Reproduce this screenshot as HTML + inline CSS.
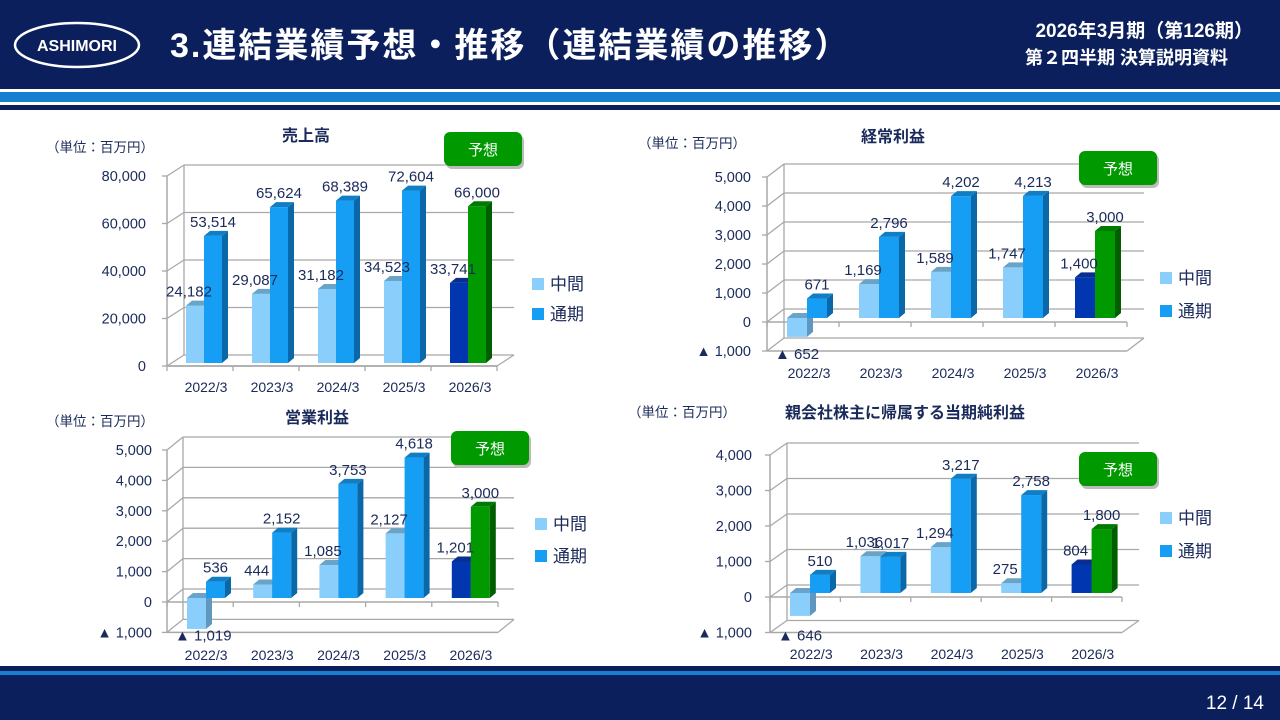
<!DOCTYPE html>
<html><head><meta charset="utf-8">
<style>
body{margin:0;width:1280px;height:720px;overflow:hidden;background:#fff;font-family:"Liberation Sans","Noto Sans CJK JP",sans-serif;}
svg{display:block}
</style></head>
<body>
<svg id="s" width="1280" height="720" xmlns="http://www.w3.org/2000/svg" font-family="Liberation Sans, Noto Sans CJK JP, sans-serif">
<g>
<rect x="0" y="0" width="1280" height="89" fill="#0b1f5c"/>
<rect x="0" y="92" width="1280" height="10" fill="#1580d0"/>
<rect x="0" y="105" width="1280" height="5" fill="#0b1f5c"/>
<ellipse cx="77" cy="45" rx="62" ry="22" fill="none" stroke="#fff" stroke-width="2.5"/>
<text x="77" y="51" text-anchor="middle" fill="#fff" font-size="16" font-weight="bold">ASHIMORI</text>
<text x="170" y="57" fill="#fff" font-size="34" font-weight="bold" letter-spacing="2">3.連結業績予想・推移（連結業績の推移）</text>
<text x="1253" y="37" text-anchor="end" fill="#fff" font-size="19" font-weight="bold">2026年3月期（第126期）</text>
<text x="1228" y="64" text-anchor="end" fill="#fff" font-size="18" font-weight="bold">第２四半期 決算説明資料</text>
</g>
<g>
<rect x="0" y="666" width="1280" height="5" fill="#0b1f5c"/>
<rect x="0" y="671" width="1280" height="4" fill="#1580d0"/>
<rect x="0" y="675" width="1280" height="45" fill="#0b1f5c"/>
<text x="1264" y="709" text-anchor="end" fill="#fff" font-size="19">12 / 14</text>
</g>
<g id="charts"></g>
</svg>
<script>
const categories=["2022/3","2023/3","2024/3","2025/3","2026/3"];
const salesInterim=[24182,29087,31182,34523,33741];
const salesAnnual=[53514,65624,68389,72604,66000];
const ordInterim=[-652,1169,1589,1747,1400];
const ordAnnual=[671,2796,4202,4213,3000];
const opInterim=[-1019,444,1085,2127,1201];
const opAnnual=[536,2152,3753,4618,3000];
const netInterim=[-646,1036,1294,275,804];
const netAnnual=[510,1017,3217,2758,1800];

const NS="http://www.w3.org/2000/svg";
const root=document.getElementById('charts');
function el(tag,attrs,parent,txt){const e=document.createElementNS(NS,tag);for(const k in attrs)e.setAttribute(k,attrs[k]);if(txt!==undefined)e.textContent=txt;(parent||root).appendChild(e);return e;}
function fmt(v){const a=Math.abs(v).toLocaleString('en-US');return v<0?'▲ '+a:a;}

function chart(c){
  const g=el('g',{});
  
  
  const y=v=>c.y0-v*c.ppu;
  const yb=v=>c.base-v*c.ppu;
  const gc='#a8a8a8';
  for(let v=c.min;v<=c.max;v+=c.step){
    const gl=el('line',{x1:c.x0,y1:y(v),x2:c.x0+c.dx,y2:y(v)+c.dy,stroke:gc,'stroke-width':1.3},g);
    
    
    const gb=el('line',{x1:c.x0+c.dx,y1:y(v)+c.dy,x2:c.x1+c.dx,y2:y(v)+c.dy,stroke:gc,'stroke-width':1.3},g);
    
    
    el('line',{x1:c.x0-5,y1:y(v),x2:c.x0,y2:y(v),stroke:gc,'stroke-width':1.3},g);
    const t=el('text',{x:c.lx,y:y(v)+5,'text-anchor':'end','font-size':14.5,fill:'#1a2a5a'},g,fmt(v));
    
    
  }
  el('line',{x1:c.x0+c.dx,y1:y(c.max)+c.dy,x2:c.x0+c.dx,y2:y(c.min)+c.dy,stroke:gc,'stroke-width':1.3},g);
  el('line',{x1:c.x0,y1:y(c.max),x2:c.x0,y2:y(c.min),stroke:gc,'stroke-width':1.5},g);
  el('line',{x1:c.x0,y1:y(c.min),x2:c.x1,y2:y(c.min),stroke:gc,'stroke-width':1.5},g);
  el('line',{x1:c.x1,y1:y(c.min),x2:c.x1+c.dx,y2:y(c.min)+c.dy,stroke:gc,'stroke-width':1.3},g);
  el('line',{x1:c.x0,y1:y(0),x2:c.x1,y2:y(0),stroke:gc,'stroke-width':1.5},g);
  const cw=(c.x1-c.x0)/categories.length;
  for(let i=0;i<=categories.length;i++){
    el('line',{x1:c.x0+i*cw,y1:y(0),x2:c.x0+i*cw,y2:y(0)+5,stroke:gc,'stroke-width':1.3},g);
  }
  const bars=el('g',{},g);
  const labels=el('g',{},g);
  const sd=6, su=5;
  function bar(x,v,front,side,top,nm,lshift){
    const bg=el('g',{},bars);
    
    
    const t=Math.min(yb(v),yb(0)), b=Math.max(yb(v),yb(0));
    el('rect',{x:x,y:t,width:c.bw,height:b-t,fill:front},bg);
    el('polygon',{points:`${x+c.bw},${t} ${x+c.bw+sd},${t-su} ${x+c.bw+sd},${b-su} ${x+c.bw},${b}`,fill:side},bg);
    el('polygon',{points:`${x},${t} ${x+sd},${t-su} ${x+c.bw+sd},${t-su} ${x+c.bw},${t}`,fill:top},bg);
    let lab;
    if(v>=0) lab=el('text',{x:x+c.bw/2+lshift,y:yb(v)-9,'text-anchor':'middle','font-size':15,fill:'#1a2a5a'},labels,fmt(v));
    else lab=el('text',{x:x-12,y:y(c.min)+8,'font-size':15,fill:'#1a2a5a'},labels,fmt(v));
    
    
  }
  categories.forEach((cat,i)=>{
    const bx=c.x0+i*cw+c.off;
    const last=i===categories.length-1;
    bar(bx,c.interim[i],last?'#0036b0':'#8acffb',last?'#00268a':'#5f97bf',last?'#0a2e90':'#6aa3c8','bar-interim-'+cat,-6);
    bar(bx+c.bw,c.annual[i],last?'#009900':'#169ef5',last?'#005e00':'#0b68a8',last?'#007a00':'#0f7ec5','bar-annual-'+cat,0);
    const xl=el('text',{x:c.x0+i*cw+cw/2+6,y:c.xly,'text-anchor':'middle','font-size':14,fill:'#1a2a5a'},g,cat);
    
    
  });
  const tt=el('text',{x:c.tx,y:c.ty,'text-anchor':'middle','font-size':16,'font-weight':'bold',fill:'#1a2a5a'},g,c.title);
  
  
  const un=el('text',{x:c.ux,y:c.uy,'font-size':13.5,fill:'#1a2a5a'},g,'（単位：百万円）');
  
  
  const bd=el('g',{},g);
  
  
  el('rect',{x:c.bx+2,y:c.by+3,width:78,height:34,rx:6,fill:'#bbb'},bd);
  el('rect',{x:c.bx,y:c.by,width:78,height:34,rx:6,fill:'#009a00'},bd);
  el('text',{x:c.bx+39,y:c.by+23,'text-anchor':'middle','font-size':15,fill:'#fff'},bd,'予想');
  [['中間','#8acffb',c.gy1],['通期','#169ef5',c.gy2]].forEach(l=>{
    const lg=el('g',{},g);
    
    
    el('rect',{x:c.gx,y:l[2]-6,width:12,height:12,fill:l[1]},lg);
    el('text',{x:c.gx+18,y:l[2]+6,'font-size':17,fill:'#1a2a5a'},lg,l[0]);
  });
}
chart({name:'sales-chart',title:'売上高',interim:salesInterim,annual:salesAnnual,x0:167,x1:497,y0:366,base:363,ppu:190/80000,min:0,max:80000,step:20000,dx:17,dy:-11,off:19,bw:18,lx:146,xly:392,tx:306,ty:141,ux:46,uy:152,bx:444,by:132,gx:532,gy1:284,gy2:314});
chart({name:'ordinary-profit-chart',title:'経常利益',interim:ordInterim,annual:ordAnnual,x0:767,x1:1127,y0:322,base:318,ppu:0.029,min:-1000,max:5000,step:1000,dx:17,dy:-13,off:20,bw:20,lx:751,xly:378,tx:893,ty:142,ux:638,uy:148,bx:1079,by:151,gx:1160,gy1:278,gy2:311});
chart({name:'operating-profit-chart',title:'営業利益',interim:opInterim,annual:opAnnual,x0:167,x1:498,y0:602,base:598,ppu:0.0304,min:-1000,max:5000,step:1000,dx:16,dy:-13,off:20,bw:19,lx:152,xly:660,tx:317,ty:423,ux:46,uy:426,bx:451,by:431,gx:535,gy1:524,gy2:556});
chart({name:'net-income-chart',title:'親会社株主に帰属する当期純利益',interim:netInterim,annual:netAnnual,x0:770,x1:1122,y0:597,base:593,ppu:0.0355,min:-1000,max:4000,step:1000,dx:17,dy:-12,off:20,bw:20,lx:752,xly:659,tx:905,ty:418,ux:628,uy:417,bx:1079,by:452,gx:1160,gy1:518,gy2:551});
</script>
</body></html>
